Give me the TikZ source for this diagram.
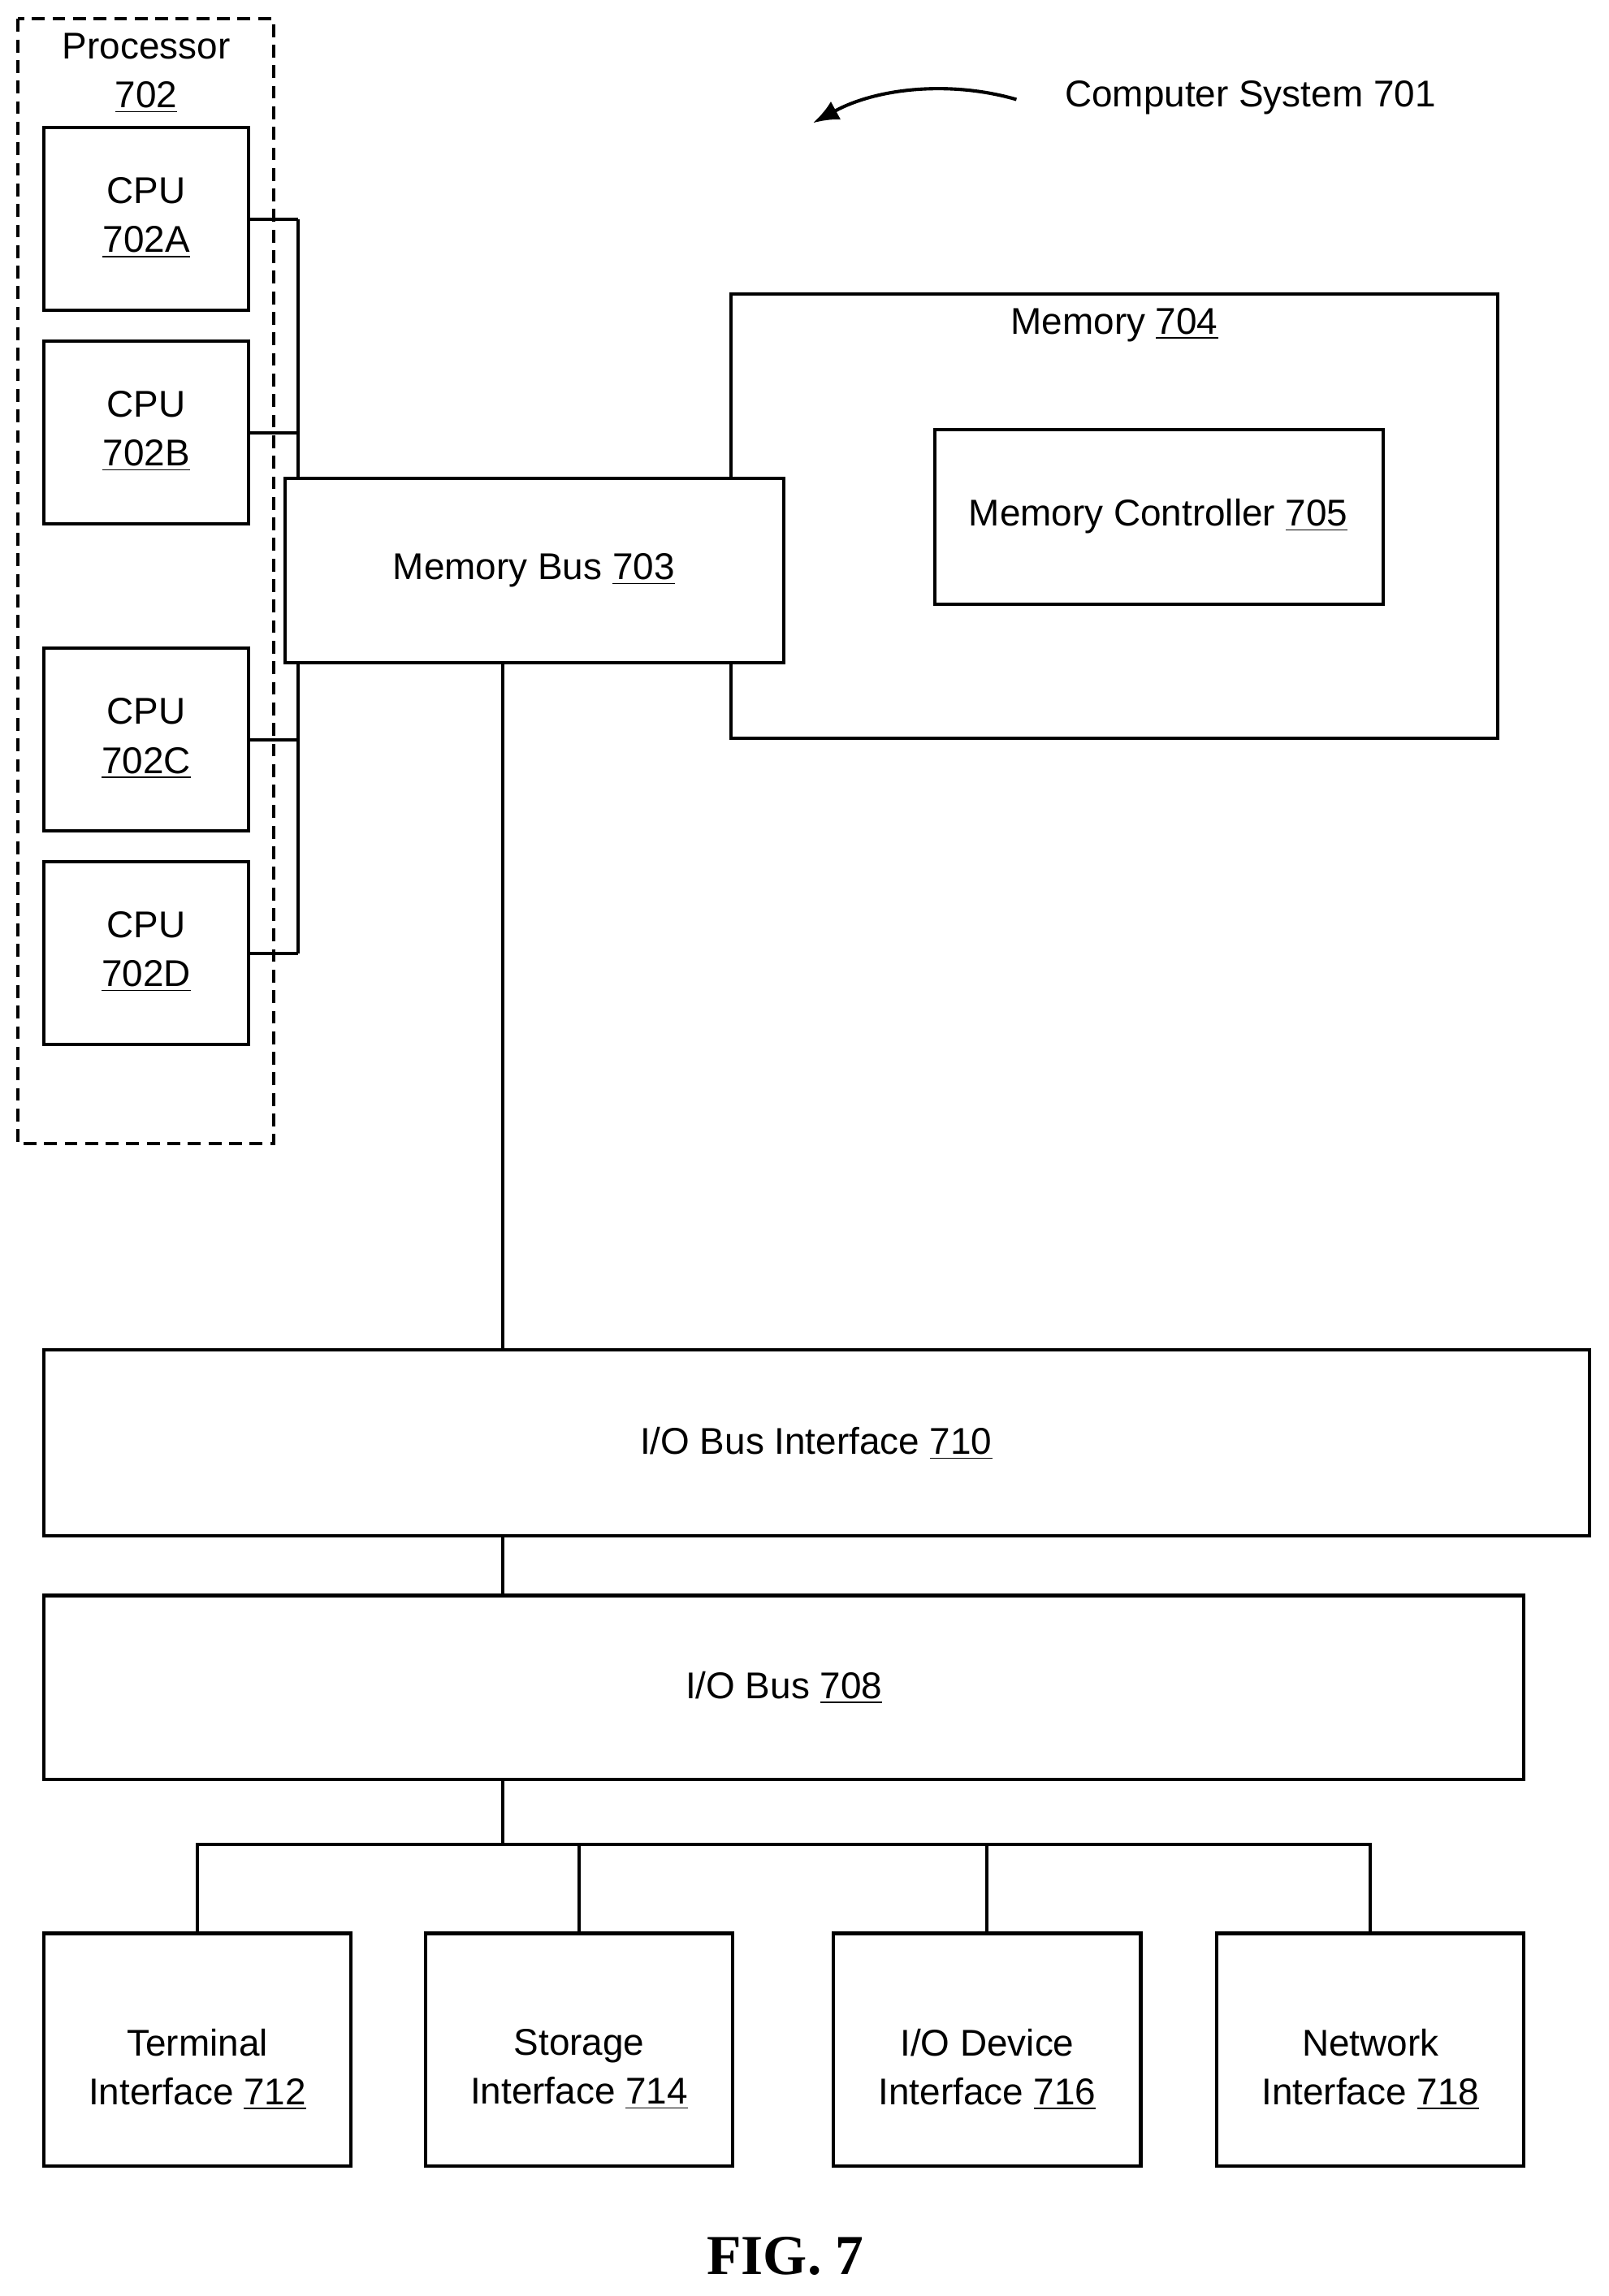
\documentclass[tikz,border=0pt]{standalone}
\usepackage{fontspec}
\usetikzlibrary{arrows.meta}
\setmainfont{Liberation Sans}
\newfontfamily\figfont{Liberation Serif}
\begin{document}
\begin{tikzpicture}[x=0.02cm,y=-0.02cm,
  box/.style={draw,line width=1.3pt,fill=white},
  ln/.style={line width=1.3pt},
  lbl/.style={font=\fontsize{14.5}{19}\selectfont,align=center}]
\useasboundingbox (0,0) rectangle (1100,1570);
\draw[line width=1.3pt,dash pattern=on 5pt off 3pt] (12,13) rectangle (187,782);
\node[lbl] (proc) at (100,50) {Processor\\\underline{702}};
% bus line
\draw[ln] (204,150) -- (204,652);
\foreach \n/\t/\l in {a/87/A,b/233/B,c/443/C,d/589/D}{
  \draw[box] (30,\t) rectangle (170,\t+125);
  \node[lbl] (cpu\n) at (100,\t+62) {CPU\\\underline{702\l}};
  \draw[ln] (170,\t+63) -- (204,\t+63);
}
\draw[box] (500,201) rectangle (1024,505);
\node[lbl] (mem) at (762,222) {Memory \underline{704}};
\draw[box] (639,294) rectangle (946,413);
\node[lbl] (mc) at (792,353) {Memory Controller \underline{705}};
\draw[box] (195,327) rectangle (536,453);
\node[lbl] (mb) at (365,390) {Memory Bus \underline{703}};
\draw[ln] (344,453) -- (344,923);
\draw[box] (30,923) rectangle (1087,1050);
\node[lbl] (iobi) at (558,987) {I/O Bus Interface \underline{710}};
\draw[ln] (344,1050) -- (344,1091);
\draw[box] (30,1091) rectangle (1042,1217);
\node[lbl] (iob) at (536,1154) {I/O Bus \underline{708}};
\draw[ln] (344,1217) -- (344,1261);
\draw[ln] (135,1322) -- (135,1261) -- (937,1261) -- (937,1322);
\draw[ln] (396,1261) -- (396,1322);
\draw[ln] (675,1261) -- (675,1322);
\foreach \x/\a/\b/\nm in {30/Terminal/712/t,291/Storage/714/s,570/I\slash O Device/716/i,832/Network/718/n}{
  \draw[box] (\x,1322) rectangle (\x+210,1481);
  \node[lbl] (if\nm) at (\x+105,1415) {\a\\Interface \underline{\b}};
}
\node[font=\figfont\bfseries\fontsize{22}{26}\selectfont] (fig) at (537,1543) {FIG. 7};
\node[lbl,anchor=west] (cs) at (722,67) {Computer System 701};
\coordinate (s) at (695,68);
\draw[ln,-{Latex[length=10pt,width=8pt]}] (s) .. controls (650,55) and (600,60) .. (556,84);
\end{tikzpicture}
\end{document}
